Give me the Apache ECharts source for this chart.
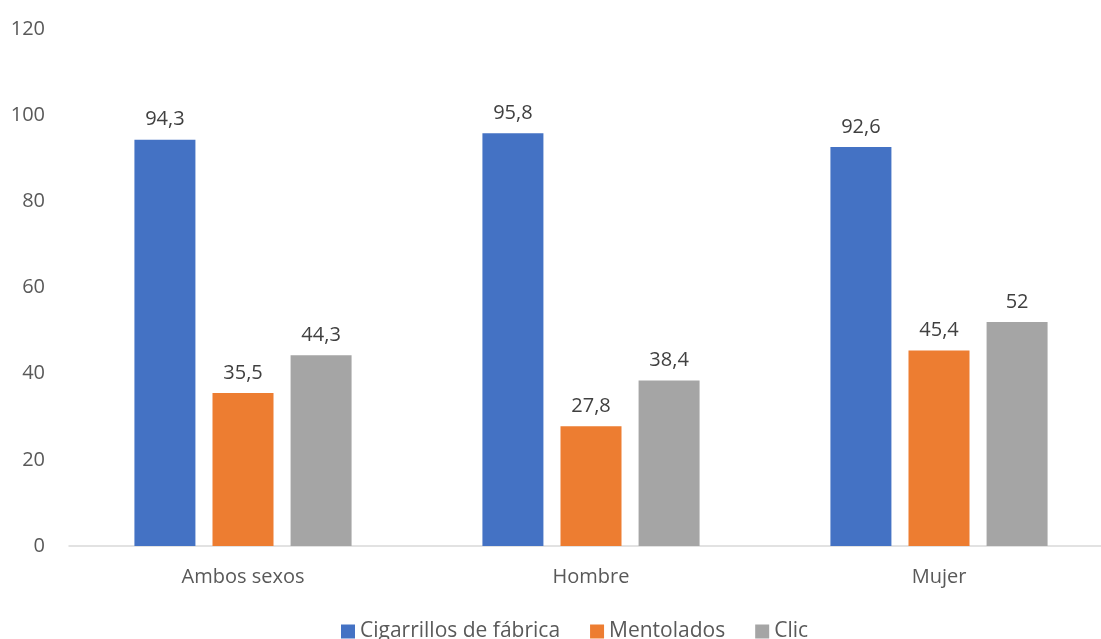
<!DOCTYPE html>
<html>
<head>
<meta charset="utf-8">
<script src="https://cdn.jsdelivr.net/npm/echarts@6/dist/echarts.min.js"></script>
<style>
  html, body { margin: 0; padding: 0; background: #fff; }
  #chart { width: 1101px; height: 639px; }
</style>
</head>
<body>
<div id="chart"></div>
<script>
const categories = ['Ambos sexos', 'Hombre', 'Mujer'];
const seriesNames = ['Cigarrillos de fábrica', 'Mentolados', 'Clic'];
const fabrica = [94.3, 95.8, 92.6];
const mentolados = [35.5, 27.8, 45.4];
const clic = [44.3, 38.4, 52];
const colors = ['#4472C4', '#ED7D31', '#A5A5A5'];

const font = '"Open Sans", "Noto Sans", sans-serif';
const chart = echarts.init(document.getElementById('chart'));

const label = {
  show: true,
  position: 'top',
  distance: 10,
  color: '#404040',
  fontSize: 20,
  fontFamily: font,
  formatter: p => String(p.value).replace('.', ',')
};

const makeSeries = (name, data) => ({
  name,
  type: 'bar',
  data,
  barWidth: 61,
  barGap: '28%',
  label
});

chart.setOption({
  animation: false,
  color: colors,
  textStyle: { fontFamily: font },
  // the plot area runs a little past the right edge, as in the original
  grid: { left: 69, top: 29, width: 1044, height: 517, outerBoundsMode: 'none', containLabel: false },
  legend: {
    bottom: -8,
    left: 336,
    icon: 'rect',
    itemWidth: 14,
    itemHeight: 14,
    itemGap: 30,
    textStyle: { color: '#595959', fontSize: 21, fontFamily: font },
    data: seriesNames
  },
  xAxis: {
    type: 'category',
    data: categories,
    axisLine: { lineStyle: { color: '#D9D9D9', width: 1.5 } },
    axisTick: { show: false },
    axisLabel: { color: '#595959', fontSize: 20, margin: 21, fontFamily: font }
  },
  yAxis: {
    type: 'value',
    min: 0,
    max: 120,
    interval: 20,
    axisLine: { show: false },
    axisTick: { show: false },
    splitLine: { show: false },
    axisLabel: { color: '#595959', fontSize: 20, margin: 24, fontFamily: font }
  },
  series: [
    makeSeries(seriesNames[0], fabrica),
    makeSeries(seriesNames[1], mentolados),
    makeSeries(seriesNames[2], clic)
  ]
});
</script>
</body>
</html>
